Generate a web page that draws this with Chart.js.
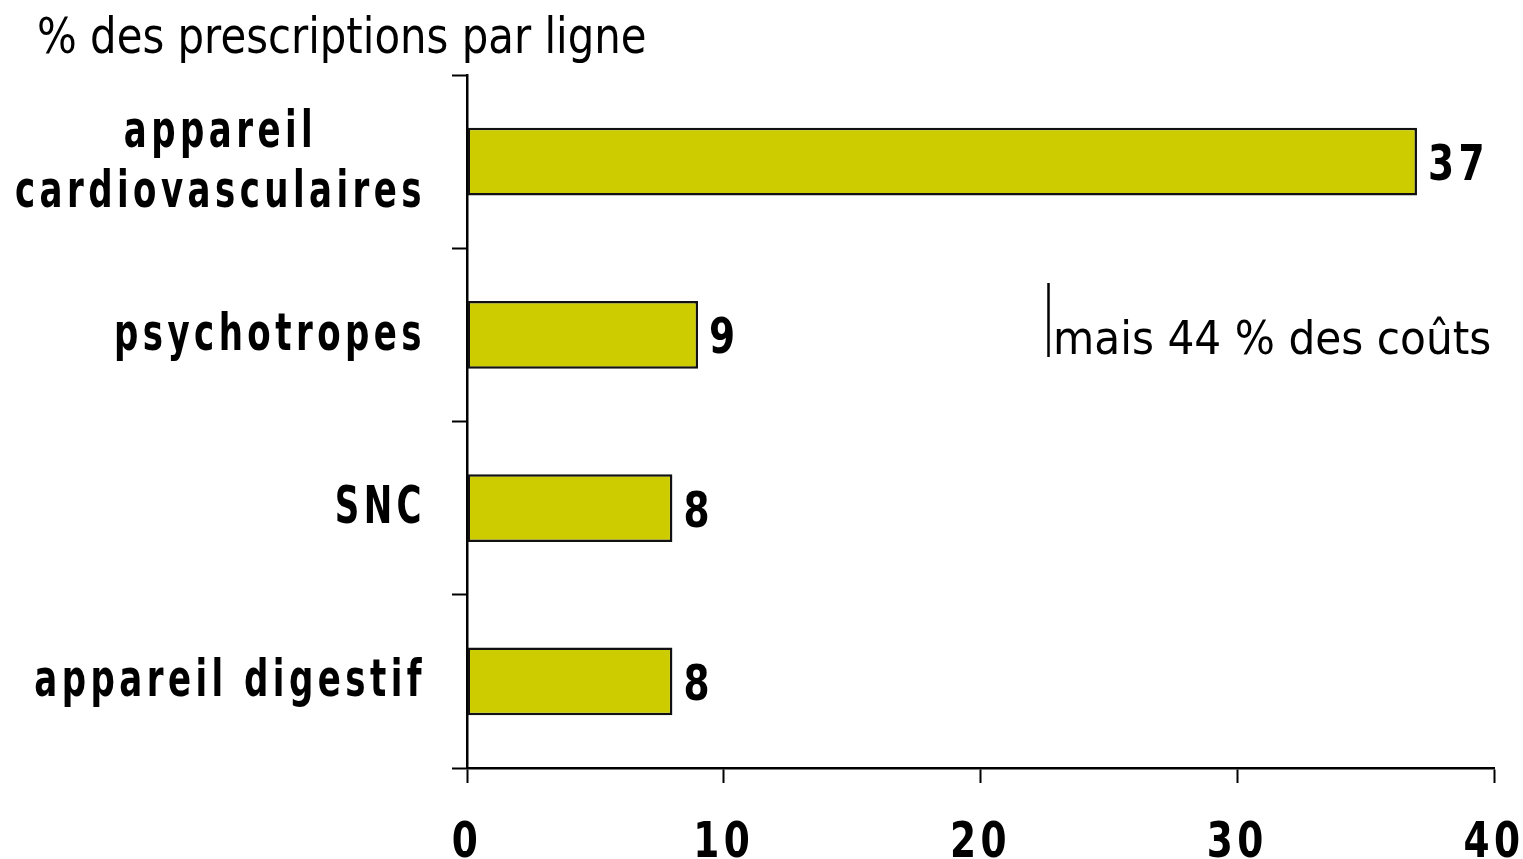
<!DOCTYPE html>
<html lang="fr">
<head>
<meta charset="utf-8">
<title>% des prescriptions par ligne</title>
<script src="https://cdn.jsdelivr.net/npm/chart.js@4"></script>
<style>
  html, body { margin: 0; padding: 0; background: #fff; }
  #wrap { width: 1523px; height: 859px; }
</style>
</head>
<body>
<div id="wrap"><canvas id="chart" width="1523" height="859"></canvas></div>
<script>
// Classes thérapeutiques (une entrée par ligne du graphique)
const categories = [
  ['appareil', 'cardiovasculaires'],
  'psychotropes',
  'SNC',
  'appareil digestif'
];
// Part des prescriptions, en %
const prescriptions = [37, 9, 8, 8];
// Graduations de l'axe horizontal
const xTicks = [0, 10, 20, 30, 40];

const titleText = '% des prescriptions par ligne';
const noteText = 'mais 44 % des coûts';

const BOLD = 'bold 46px "DejaVu Sans"';
const BOLD_NUM = 'bold 50px "DejaVu Sans"';
const REGULAR = '46px "DejaVu Sans"';

// Draws text with independent horizontal / vertical scaling and optional letter spacing.
function drawText(ctx, text, x, y, font, sx, sy, spacing, align) {
  ctx.save();
  ctx.font = font;
  if ('letterSpacing' in ctx) ctx.letterSpacing = spacing + 'px';
  ctx.textAlign = 'left';
  ctx.textBaseline = 'alphabetic';
  const w = ctx.measureText(text).width * sx;
  let x0 = x;
  if (align === 'right') x0 = x - w;
  else if (align === 'center') x0 = x - w / 2;
  ctx.translate(x0, y);
  ctx.scale(sx, sy);
  ctx.fillStyle = '#000';
  ctx.fillText(text, 0, 0);
  ctx.restore();
  return w;
}

const textLayer = {
  id: 'textLayer',
  afterDraw(chart) {
    const ctx = chart.ctx;
    const area = chart.chartArea;
    const yScale = chart.scales.y;
    const xScale = chart.scales.x;

    // Title
    drawText(ctx, titleText, 37, 53, REGULAR, 0.91, 1.07, 0, 'left');

    // Category labels, right-aligned block, multi-line lines centred in the block
    const right = area.left - 41;
    categories.forEach((lab, i) => {
      const cy = yScale.getPixelForValue(i);
      const lines = Array.isArray(lab) ? lab : [lab];
      const lh = 60;
      ctx.save();
      ctx.font = BOLD;
      if ('letterSpacing' in ctx) ctx.letterSpacing = '6px';
      const widths = lines.map(l => ctx.measureText(l).width * 0.74);
      ctx.restore();
      const W = Math.max(...widths);
      const centreX = right - W / 2;
      lines.forEach((l, k) => {
        const by = cy + 15 + (k - (lines.length - 1) / 2) * lh;
        if (lines.length > 1) drawText(ctx, l, centreX, by, BOLD, 0.74, 1.14, 6, 'center');
        else drawText(ctx, l, right, by, BOLD, 0.74, 1.14, 6, 'right');
      });
    });

    // X tick labels
    xScale.ticks.forEach(t => {
      const px = xScale.getPixelForValue(t.value);
      drawText(ctx, String(t.value), px, 857, BOLD_NUM, 0.75, 1.0, 6, 'center');
    });

    // Value labels at the end of each bar
    const meta = chart.getDatasetMeta(0);
    meta.data.forEach((bar, i) => {
      drawText(ctx, String(prescriptions[i]), bar.x + 11, bar.y + 18.5, BOLD_NUM, 0.75, 1.0, 6, 'left');
    });

    // Side note with its marker line
    ctx.save();
    ctx.strokeStyle = '#000';
    ctx.lineWidth = 2.5;
    ctx.beginPath();
    ctx.moveTo(1048.5, 283);
    ctx.lineTo(1048.5, 357);
    ctx.stroke();
    ctx.restore();
    drawText(ctx, noteText, 1053, 354, REGULAR, 0.92, 1.0, 0, 'left');
  }
};

new Chart(document.getElementById('chart'), {
  type: 'bar',
  data: {
    labels: categories,
    datasets: [{
      data: prescriptions,
      backgroundColor: '#CCCC00',
      borderColor: '#111111',
      borderWidth: 2.5,
      borderSkipped: false,
      categoryPercentage: 1.0,
      barPercentage: 0.39
    }]
  },
  options: {
    indexAxis: 'y',
    responsive: false,
    animation: false,
    devicePixelRatio: 1,
    layout: { padding: { top: 75, right: 29, left: 0, bottom: 0 } },
    plugins: {
      legend: { display: false },
      title: { display: false },
      tooltip: { enabled: false }
    },
    scales: {
      x: {
        type: 'linear',
        min: 0,
        max: 40,
        afterBuildTicks: s => { s.ticks = xTicks.map(v => ({ value: v })); },
        afterFit: s => { s.height = 91; },
        ticks: { display: false },
        grid: {
          drawOnChartArea: false,
          drawTicks: true,
          tickLength: 15,
          tickColor: '#000',
          tickWidth: 2
        },
        border: { display: true, color: '#000', width: 2.5 }
      },
      y: {
        type: 'category',
        afterFit: s => { s.width = 467; },
        ticks: { display: false },
        grid: {
          offset: true,
          drawOnChartArea: false,
          drawTicks: true,
          tickLength: 15,
          tickColor: '#000',
          tickWidth: 2
        },
        border: { display: true, color: '#000', width: 2.5 }
      }
    }
  },
  plugins: [textLayer]
});
</script>
</body>
</html>
